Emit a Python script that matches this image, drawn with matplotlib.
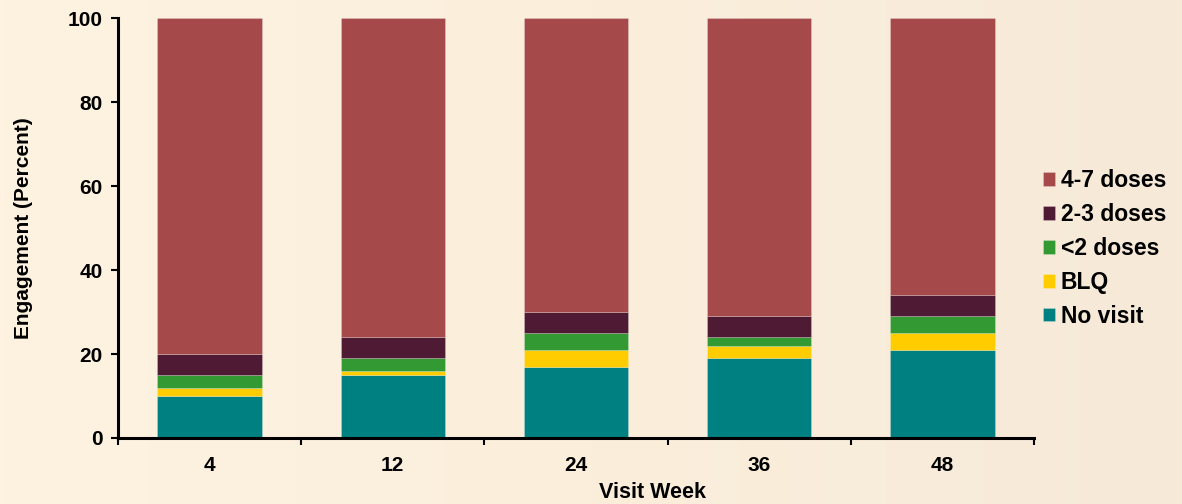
import numpy as np
import matplotlib
matplotlib.use("Agg")
import matplotlib.pyplot as plt
from matplotlib.colors import LinearSegmentedColormap

plt.rcParams["font.family"] = ["Liberation Sans", "DejaVu Sans"]
plt.rcParams["font.weight"] = "bold"

# ── data ──────────────────────────────────────────────────────────────────────
weeks     = ["4", "12", "24", "36", "48"]
no_visit  = [10, 15, 17, 19, 21]
blq       = [2, 1, 4, 3, 4]
lt2_doses = [3, 3, 4, 2, 4]
d2_3      = [5, 5, 5, 5, 5]
d4_7      = [80, 76, 70, 71, 66]

series = [
    ("No visit",  no_visit,  "#008080"),
    ("BLQ",       blq,       "#FFCC00"),
    ("<2 doses",  lt2_doses, "#339933"),
    ("2-3 doses", d2_3,      "#4E1A34"),
    ("4-7 doses", d4_7,      "#A5494A"),
]

# ── figure ────────────────────────────────────────────────────────────────────
fig = plt.figure(figsize=(11.82, 5.04), dpi=100)

# warm paper background, a touch darker toward the right
bg = fig.add_axes([0, 0, 1, 1], zorder=-10)
grad = np.linspace(0, 1, 256).reshape(1, -1)
cmap = LinearSegmentedColormap.from_list("paper", ["#FDF3E0", "#FBEFDC", "#F6E9D8"])
bg.imshow(grad, aspect="auto", cmap=cmap, extent=[0, 1, 0, 1])
bg.axis("off")

ax = fig.add_axes([0.0998, 0.131, 0.7750, 0.833])
ax.patch.set_alpha(0)

x = np.arange(len(weeks))
bottom = np.zeros(len(weeks))
handles = []
for name, vals, col in series:
    b = ax.bar(x, vals, width=0.57, bottom=bottom, color=col,
               edgecolor="#ffffff40", linewidth=0.6, label=name)
    handles.append(b)
    bottom += np.array(vals)

ax.set_xlim(-0.5, len(weeks) - 0.5)
ax.set_ylim(0, 100)

for s in ["top", "right"]:
    ax.spines[s].set_visible(False)
for s in ["left", "bottom"]:
    ax.spines[s].set_linewidth(2.2)
    ax.spines[s].set_color("black")

ax.set_yticks([0, 20, 40, 60, 80, 100])
ax.tick_params(axis="y", length=5, width=1.5, labelsize=15, pad=6)

# category labels centred, tick marks on the boundaries
ax.set_xticks(x)
ax.set_xticklabels(weeks, fontsize=15, fontweight="bold")
ax.tick_params(axis="x", length=0, pad=13)
ax.set_xticks(np.arange(len(weeks) + 1) - 0.5, minor=True)
ax.tick_params(axis="x", which="minor", length=5, width=1.5, direction="out")

for lbl in ax.get_yticklabels():
    lbl.set_fontweight("bold")

ax.set_xlabel("Visit Week", fontsize=15.5, fontweight="bold")
ax.xaxis.set_label_coords(0.583, -0.129)
ax.xaxis.label.set_verticalalignment("center")
ax.set_ylabel("Engagement (Percent)", fontsize=15, fontweight="bold", labelpad=25)

leg = fig.legend(handles[::-1], [s[0] for s in series][::-1],
                 loc="center left", bbox_to_anchor=(0.882, 0.507),
                 frameon=False, fontsize=16.5, handlelength=0.55, handleheight=0.55,
                 handletextpad=0.25, labelspacing=0.47, borderaxespad=0,
                 borderpad=0)
for t in leg.get_texts():
    t.set_fontweight("bold")

fig.savefig("out.png", dpi=100)
